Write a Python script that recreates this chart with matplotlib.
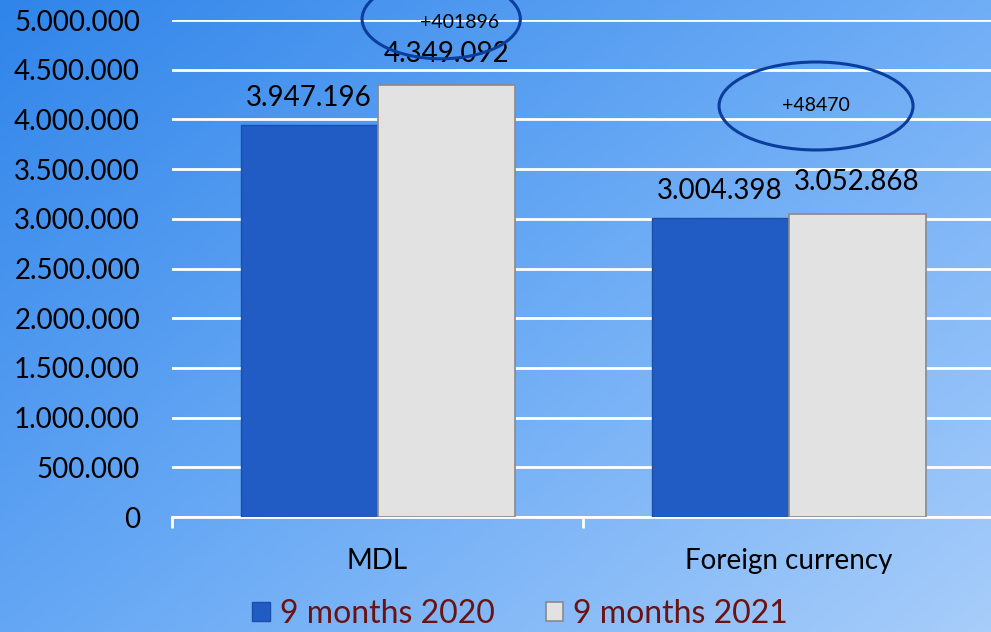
import numpy as np
import matplotlib
matplotlib.use('Agg')
import matplotlib.pyplot as plt
from matplotlib.patches import Ellipse
from matplotlib.ticker import FuncFormatter, FixedLocator
from matplotlib.colors import LinearSegmentedColormap

categories = ['MDL', 'Foreign currency']
series_names = ['9 months 2020', '9 months 2021']
values_2020 = [3947196, 3004398]
values_2021 = [4349092, 3052868]
diff_labels = ['+401896', '+48470']

plt.rcParams['font.family'] = ['Lato', 'DejaVu Sans']


def dotted(v, pos=None):
    """thousands separated by dots"""
    return f'{int(round(v)):,}'.replace(',', '.')


fig = plt.figure(figsize=(9.91, 6.32), dpi=100)

# gradient background
bg = fig.add_axes([0, 0, 1, 1], zorder=-10)
yy, xx = np.mgrid[0:1:200j, 0:1:200j]
grad = 0.55 * xx + 0.45 * yy
cmap = LinearSegmentedColormap.from_list('bg', ['#3085ea', '#6aaaf5', '#a7cdfa'])
bg.imshow(grad, cmap=cmap, aspect='auto', extent=[0, 1, 0, 1], origin='upper')
bg.axis('off')

ax = fig.add_axes([172 / 991, 1 - 517 / 632, 822 / 991, 497 / 632])
ax.patch.set_alpha(0)

x = np.arange(len(categories))
w = 1 / 3
b1 = ax.bar(x - w / 2, values_2020, w, color='#215cc4', edgecolor='#1a4ea8', linewidth=1, zorder=3,
            label=series_names[0])
b2 = ax.bar(x + w / 2, values_2021, w, color='#e2e2e2', edgecolor='#8a8a8a', linewidth=1.2, zorder=3,
            label=series_names[1])

ax.bar_label(b1, labels=[dotted(v) for v in values_2020], padding=10, fontsize=20, zorder=5)
ax.bar_label(b2, labels=[dotted(v) for v in values_2021], padding=13, fontsize=20, zorder=5)

ax.set_xlim(-0.5, 1.5)
ax.set_ylim(0, 5000000)
ax.yaxis.set_major_locator(FixedLocator(np.arange(0, 5000001, 500000)))
ax.yaxis.set_major_formatter(FuncFormatter(dotted))
ax.grid(axis='y', color='white', linewidth=2, zorder=0)
ax.set_axisbelow(True)
for s in ['left', 'right', 'top']:
    ax.spines[s].set_visible(False)
ax.spines['bottom'].set_color('white')
ax.spines['bottom'].set_linewidth(2)
ax.tick_params(axis='y', length=0, pad=23, labelsize=20)
ax.set_xticks(x)
ax.set_xticklabels(categories, fontsize=20)
ax.tick_params(axis='x', length=0, pad=22)
ax.set_xticks([-0.5, 0.5, 1.5], minor=True)
ax.tick_params(axis='x', which='minor', length=8, width=2, color='white')

# ellipses with the difference
ell_pos = [(0.155, 5010000, 0.385, 800000), (1.067, 4135000, 0.472, 885000)]
for (cx, cy, ew, eh), txt in zip(ell_pos, diff_labels):
    ax.add_patch(Ellipse((cx, cy), ew, eh, fill=False, edgecolor='#0b3d9c', linewidth=2.2,
                         zorder=6, clip_on=False))
ax.text(0.2, 4970000, diff_labels[0], ha='center', va='center', fontsize=14, zorder=7)
ax.text(1.067, 4135000, diff_labels[1], ha='center', va='center', fontsize=14, zorder=7)

leg = fig.legend(handles=[b1, b2], loc='center', bbox_to_anchor=(520 / 991, 1 - 614 / 632), ncol=2,
                 frameon=False, fontsize=23, handlelength=0.55, handleheight=0.55,
                 handletextpad=0.3, columnspacing=1.6, borderpad=0.2)
for t in leg.get_texts():
    t.set_color('#6b1212')

fig.savefig('out.png', dpi=100)
